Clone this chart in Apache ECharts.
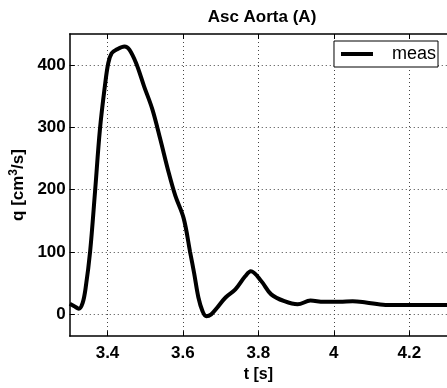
<!DOCTYPE html>
<html>
<head>
<meta charset="utf-8">
<script src="https://cdn.jsdelivr.net/npm/echarts@6/dist/echarts.min.js"></script>
<style>
  html, body { margin: 0; padding: 0; background: #fff; }
  #chart { width: 447px; height: 388px; }
</style>
</head>
<body>
<div id="chart"></div>
<script>
// measured flow, Asc Aorta (A)
const tValues = [3.300, 3.312, 3.324, 3.334, 3.342, 3.354, 3.367, 3.380, 3.393, 3.402,
  3.411, 3.424, 3.445, 3.458, 3.476, 3.497, 3.519, 3.540, 3.562, 3.580,
  3.602, 3.619, 3.630, 3.641, 3.652, 3.662, 3.675, 3.690, 3.713, 3.739,
  3.765, 3.780, 3.808, 3.834, 3.869, 3.904, 3.938, 3.973, 4.016, 4.050,
  4.085, 4.137, 4.189, 4.250, 4.300]
const qValues = [17, 13, 9, 18, 42, 101, 197, 297, 366, 403,
  419, 425, 430, 425, 403, 366, 329, 281, 228, 190,
  154, 100, 65, 27, 5, -3, 0, 10, 27, 40,
  61, 69, 53, 32, 21, 16, 22, 20, 20, 21,
  19, 15, 15, 15, 15]
const xTicks = [3.4, 3.6, 3.8, 4, 4.2]
const yTicks = [0, 100, 200, 300, 400]

const font = 'Liberation Sans, Arial, sans-serif'
const gridLine = { show: true, lineStyle: { color: '#444', width: 1, type: [1, 3] } }

const chart = echarts.init(document.getElementById('chart'), null, { renderer: 'canvas' })

const option = {
  animation: false,
  backgroundColor: '#fff',
  title: {
    text: 'Asc Aorta (A)',
    left: 257,
    textAlign: 'center',
    top: 4,
    textStyle: { fontFamily: font, fontSize: 17, fontWeight: 'bold', color: '#000' },
  },
  grid: { left: 64, right: -3, top: 34, bottom: 49, containLabel: false },
  legend: {
    right: 9,
    top: 41,
    orient: 'vertical',
    data: ['meas'],
    icon: 'rect',
    itemWidth: 32,
    itemHeight: 4,
    backgroundColor: '#fff',
    borderColor: '#000',
    borderWidth: 1,
    borderRadius: 0,
    padding: [4, 2, 4, 7],
    textStyle: { fontFamily: font, fontSize: 18, color: '#000', padding: [0, 0, 0, 14] },
  },
  xAxis: [
    {
      type: 'value',
      min: 3.3,
      max: 4.3,
      name: 't [s]',
      nameLocation: 'middle',
      nameGap: 27,
      nameTextStyle: { fontFamily: font, fontSize: 16, fontWeight: 'bold', color: '#000' },
      axisLine: { show: true, onZero: false, lineStyle: { color: '#000', width: 1.5 } },
      axisTick: { show: true, inside: true, length: 5, customValues: xTicks, lineStyle: { color: '#000' } },
      axisLabel: {
        customValues: xTicks,
        margin: 9,
        fontFamily: font, fontSize: 17, fontWeight: 'bold', color: '#000',
        formatter: v => String(+v.toFixed(1)),
      },
      splitLine: gridLine,
    },
    {
      type: 'value',
      position: 'top',
      min: 3.3,
      max: 4.3,
      axisLine: { show: true, onZero: false, lineStyle: { color: '#000', width: 1.5 } },
      axisTick: { show: true, inside: true, length: 5, customValues: xTicks, lineStyle: { color: '#000' } },
      axisLabel: { show: false },
      splitLine: { show: false },
    },
  ],
  yAxis: {
    type: 'value',
    min: -35,
    max: 450,
    name: 'q [cm{sup|3}/s]',
    nameLocation: 'middle',
    nameGap: 34,
    nameTextStyle: {
      fontFamily: font, fontSize: 17, fontWeight: 'bold', color: '#000',
      rich: { sup: { fontFamily: font, fontSize: 12, fontWeight: 'bold', color: '#000', verticalAlign: 'top', padding: [0, 0, 8, 0] } },
    },
    axisLine: { show: true, onZero: false, lineStyle: { color: '#000', width: 1.5 } },
    axisTick: { show: true, inside: true, length: 5, customValues: yTicks, lineStyle: { color: '#000' } },
    axisLabel: {
      customValues: yTicks,
      margin: 4,
      fontFamily: font, fontSize: 17, fontWeight: 'bold', color: '#000',
    },
    splitLine: gridLine,
  },
  series: [
    {
      name: 'meas',
      type: 'line',
      data: tValues.map((t, i) => [t, qValues[i]]),
      showSymbol: false,
      smooth: 0.35,
      lineStyle: { color: '#000', width: 4 },
      itemStyle: { color: '#000' },
      clip: true,
    },
  ],
}

chart.setOption(option)
</script>
</body>
</html>
